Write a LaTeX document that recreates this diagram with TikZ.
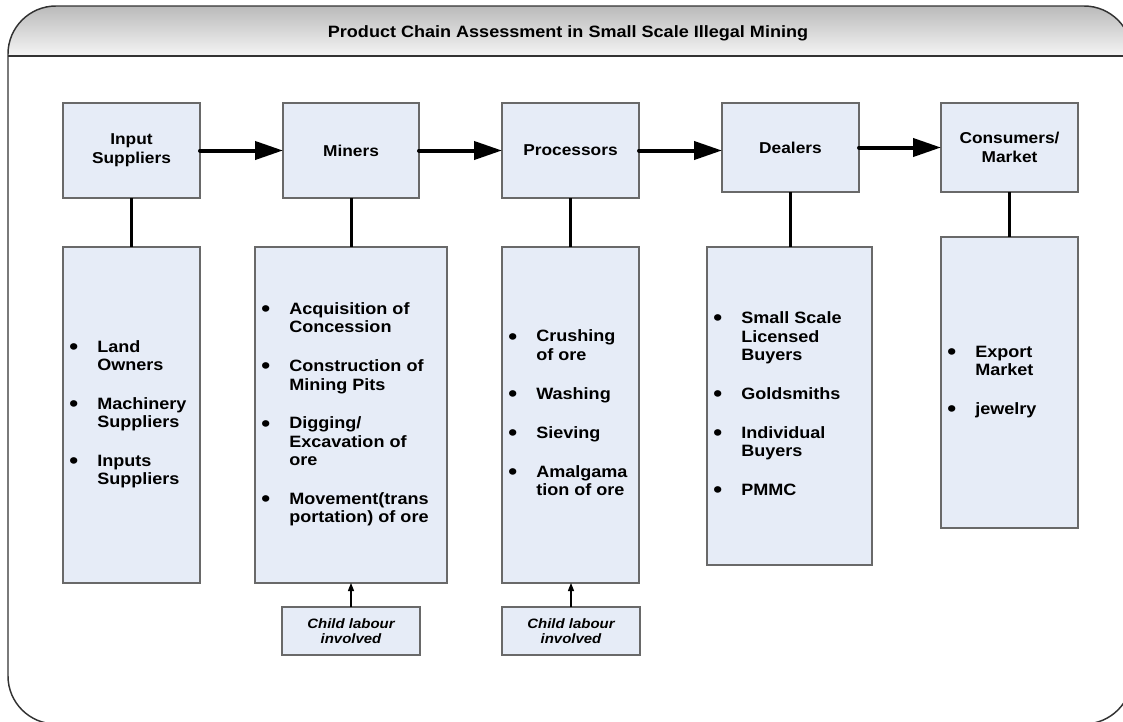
\documentclass[tikz,border=0pt]{standalone}
\usepackage{fontspec}
\newfontfamily\af[FakeStretch=1.1]{Liberation Sans}
\usetikzlibrary{arrows.meta}
\definecolor{boxfill}{RGB}{230,236,247}
\definecolor{boxline}{RGB}{105,105,105}
\definecolor{frameline}{RGB}{50,50,50}
\newcommand\bl{\raisebox{-1.6pt}{\scalebox{1.4}{\textbullet}}}
\newcommand\gp{\\[15.5pt]}
\begin{document}
\begin{tikzpicture}[x=0.75pt,y=-0.75pt,
  topbox/.style={draw=boxline, fill=boxfill, line width=1.1pt, inner sep=0pt, outer sep=0pt, align=center, font=\af\bfseries\fontsize{11.8pt}{14.25pt}\selectfont},
  listbox/.style={draw=boxline, fill=boxfill, line width=1.1pt, inner sep=0pt, outer sep=0pt},
  listtext/.style={anchor=west, inner sep=0pt, font=\af\bfseries\fontsize{12.3pt}{13.7pt}\selectfont, align=left},
  childbox/.style={draw=boxline, fill=boxfill, line width=1.1pt, inner sep=0pt, outer sep=0pt, align=center, font=\af\bfseries\itshape\fontsize{10.2pt}{11.25pt}\selectfont},
  flow/.style={line width=3pt, line cap=round, -{Triangle[length=21pt,width=13.5pt]}},
  link/.style={line width=2.25pt},
  up/.style={line width=0.9pt, -{Triangle[length=6pt,width=4.5pt]}}]
\useasboundingbox (0,0) rectangle (1123,721);
\clip (0,0) rectangle (1123,721);
% frame and title band
\begin{scope}
  \clip[rounded corners=36pt] (8,6) rectangle (1132,724);
  \shade[top color=black!27, bottom color=black!4] (8,6) rectangle (1132,56);
\end{scope}
\draw[frameline, line width=1.1pt] (8,56) -- (1132,56);
\draw[frameline, line width=1.1pt, rounded corners=36pt] (8,6) rectangle (1132,724);
\node[font=\af\bfseries\fontsize{12.3pt}{14pt}\selectfont, anchor=base] (title) at (568,37) {Product Chain Assessment in Small Scale Illegal Mining};

% top boxes
\node[topbox, minimum width=137*0.75pt, minimum height=95*0.75pt] (sup) at (131.5,150.5) {Input\\Suppliers};
\node[topbox, minimum width=136*0.75pt, minimum height=95*0.75pt] (min) at (351,150.5) {Miners};
\node[topbox, minimum width=137*0.75pt, minimum height=95*0.75pt] (pro) at (570.5,150.5) {Processors};
\node[topbox, minimum width=137*0.75pt, minimum height=89*0.75pt] (dea) at (790.5,147.5) {Dealers};
\node[topbox, minimum width=137*0.75pt, minimum height=89*0.75pt] (con) at (1009.5,147.5) {Consumers/\\Market};

% list boxes
\node[listbox, minimum width=137*0.75pt, minimum height=336*0.75pt] (lsup) at (131.5,415) {};
\node[listbox, minimum width=192*0.75pt, minimum height=336*0.75pt] (lmin) at (351,415) {};
\node[listbox, minimum width=137*0.75pt, minimum height=336*0.75pt] (lpro) at (570.5,415) {};
\node[listbox, minimum width=165*0.75pt, minimum height=318*0.75pt] (ldea) at (789.5,406) {};
\node[listbox, minimum width=137*0.75pt, minimum height=291*0.75pt] (lcon) at (1009.5,382.5) {};

% list texts
\node[listtext, xshift=4.5pt] (tsup) at (lsup.west) {\begin{tabular}{@{}p{21pt}@{}l@{}}
\bl & Land\\ & Owners\gp
\bl & Machinery\\ & Suppliers\gp
\bl & Inputs\\ & Suppliers
\end{tabular}};
\node[listtext, xshift=4.5pt] (tmin) at (lmin.west) {\begin{tabular}{@{}p{21pt}@{}l@{}}
\bl & Acquisition of\\ & Concession\gp
\bl & Construction of\\ & Mining Pits\gp
\bl & Digging/\\ & Excavation of\\ & ore\gp
\bl & Movement(trans\\ & portation) of ore
\end{tabular}};
\node[listtext, xshift=4.5pt] (tpro) at (lpro.west) {\begin{tabular}{@{}p{21pt}@{}l@{}}
\bl & Crushing\\ & of ore\gp
\bl & Washing\gp
\bl & Sieving\gp
\bl & Amalgama\\ & tion of ore
\end{tabular}};
\node[listtext, xshift=4.5pt] (tdea) at (ldea.west) {\begin{tabular}{@{}p{21pt}@{}l@{}}
\bl & Small Scale\\ & Licensed\\ & Buyers\gp
\bl & Goldsmiths\gp
\bl & Individual\\ & Buyers\gp
\bl & PMMC
\end{tabular}};
\node[listtext, xshift=4.5pt] (tcon) at (lcon.west) {\begin{tabular}{@{}p{21pt}@{}l@{}}
\bl & Export\\ & Market\gp
\bl & jewelry
\end{tabular}};

% child labour boxes
\node[childbox, minimum width=138*0.75pt, minimum height=48*0.75pt] (ch1) at (351,631) {Child labour\\involved};
\node[childbox, minimum width=138*0.75pt, minimum height=48*0.75pt] (ch2) at (571,631) {Child labour\\involved};

% connectors
\draw[flow] (sup.east) -- (sup.east -| min.west);
\draw[flow] (min.east) -- (min.east -| pro.west);
\draw[flow] (pro.east) -- (pro.east -| dea.west);
\draw[flow] (dea.east) -- (dea.east -| con.west);
\draw[link] (sup.south) -- (lsup.north);
\draw[link] (min.south) -- (lmin.north);
\draw[link] (pro.south) -- (lpro.north);
\draw[link] (dea.south) -- (dea.south |- ldea.north);
\draw[link] (con.south) -- (lcon.north);
\draw[up] (ch1.north) -- (lmin.south);
\draw[up] (ch2.north) -- (ch2.north |- lpro.south);
\end{tikzpicture}
\end{document}
